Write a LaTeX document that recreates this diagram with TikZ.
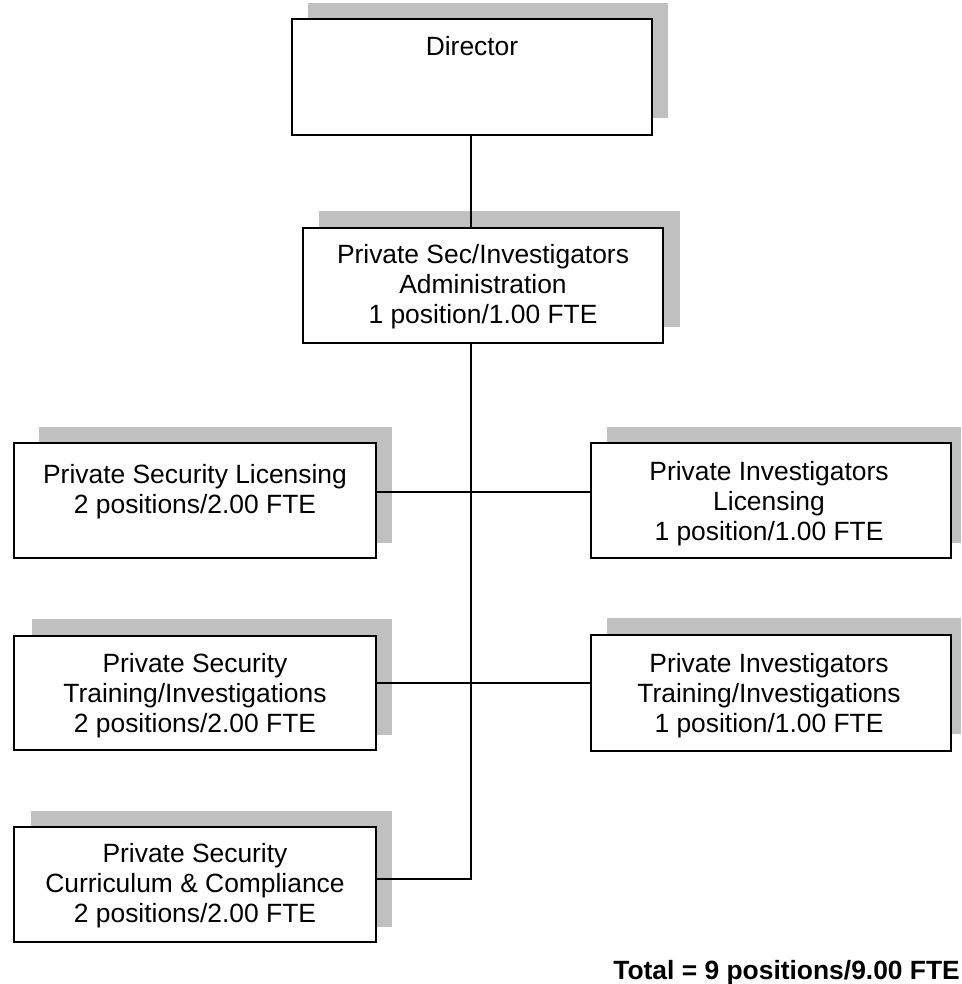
\documentclass[tikz,border=0pt]{standalone}
\usepackage{fontspec}
\setmainfont{Liberation Sans}
\definecolor{shadowgray}{RGB}{192,192,192}
\begin{document}
\begin{tikzpicture}[x=1pt,y=-1pt,
  orgbox/.style={draw=black, line width=1.6pt, fill=white, inner sep=0pt, rectangle},
  shadowbox/.style={fill=shadowgray, draw=none},
  txt/.style={font=\fontsize{26.4}{30}\selectfont, align=center, inner sep=0pt, anchor=north},
  conn/.style={line width=1.6pt}]
\useasboundingbox (0,0) rectangle (961,984);
% shadows
\path[shadowbox] (308,3) rectangle (668,118);
\path[shadowbox] (319,211) rectangle (680,327);
\path[shadowbox] (39,427) rectangle (392,543);
\path[shadowbox] (607,427) rectangle (961,543);
\path[shadowbox] (32,619) rectangle (392,735);
\path[shadowbox] (607,618) rectangle (961,734);
\path[shadowbox] (31,811) rectangle (392,927);
% boxes
\node[orgbox, minimum width=360pt, minimum height=116pt] (dir) at (472,77) {};
\node[orgbox, minimum width=360pt, minimum height=115pt] (adm) at (483,285.5) {};
\node[orgbox, minimum width=362pt, minimum height=115pt] (ls1) at (195,500.5) {};
\node[orgbox, minimum width=360pt, minimum height=115pt] (pi1) at (771,500.5) {};
\node[orgbox, minimum width=362pt, minimum height=114pt] (ls2) at (195,693) {};
\node[orgbox, minimum width=360pt, minimum height=116pt] (pi2) at (771,693) {};
\node[orgbox, minimum width=362pt, minimum height=115pt] (ls3) at (195,884.5) {};
% texts
\node[txt] (tdir) at (472,36) {Director};
\node[txt] (tadm) at (483,244) {Private Sec/Investigators\\Administration\\1 position/1.00 FTE};
\node[txt] (tls1) at (195,464) {Private Security Licensing\\2 positions/2.00 FTE};
\node[txt] (tpi1) at (769,461) {Private Investigators\\Licensing\\1 position/1.00 FTE};
\node[txt] (tls2) at (195,653) {Private Security\\Training/Investigations\\2 positions/2.00 FTE};
\node[txt] (tpi2) at (769,653) {Private Investigators\\Training/Investigations\\1 position/1.00 FTE};
\node[txt] (tls3) at (195,843) {Private Security\\Curriculum \& Compliance\\2 positions/2.00 FTE};
\node[font=\bfseries\fontsize{26.4}{30}\selectfont, inner sep=0pt, anchor=base east] (total) at (960,979) {Total = 9 positions/9.00 FTE};
% connectors
\coordinate (r1) at (471,492);
\coordinate (r2) at (471,683);
\coordinate (r3) at (471,879);
\draw[conn] (dir.south -| r1) -- (adm.north -| r1);
\draw[conn] (adm.south -| r1) -- (r3) -- (ls3.east |- r3);
\draw[conn] (ls1.east |- r1) -- (pi1.west |- r1);
\draw[conn] (ls2.east |- r2) -- (pi2.west |- r2);
\end{tikzpicture}
\end{document}
